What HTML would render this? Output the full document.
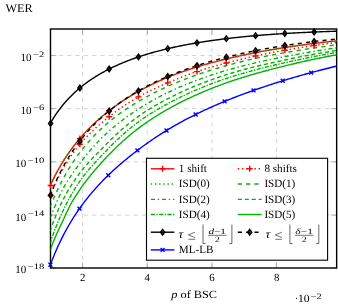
<!DOCTYPE html>
<html><head><meta charset="utf-8"><title>WER plot</title>
<style>html,body{margin:0;padding:0;background:#fff;}body{width:338px;height:305px;overflow:hidden;position:relative;font-family:"Liberation Serif",serif;}</style></head>
<body>
<svg width="338" height="305" viewBox="0 0 338 305" style="display:block;position:absolute;left:0;top:0;will-change:transform" text-rendering="geometricPrecision">
<rect x="0" y="0" width="338" height="305" fill="#ffffff"/>
<defs><clipPath id="ax"><rect x="50.5" y="29.0" width="286.15" height="239.0"/></clipPath></defs>
<path d="M82.60 268.0V29.0M147.25 268.0V29.0M211.90 268.0V29.0M276.55 268.0V29.0M50.5 55.55H336.65M50.5 108.65H336.65M50.5 161.80H336.65M50.5 215.10H336.65" stroke="#c4c4c4" stroke-width="0.75" stroke-dasharray="4.16 4.16" fill="none"/>
<path d="M82.60 268.0v-5.91M82.60 29.0v5.91M147.25 268.0v-5.91M147.25 29.0v5.91M211.90 268.0v-5.91M211.90 29.0v5.91M276.55 268.0v-5.91M276.55 29.0v5.91M50.5 55.55h5.91M336.65 55.55h-5.91M50.5 108.65h5.91M336.65 108.65h-5.91M50.5 161.80h5.91M336.65 161.80h-5.91M50.5 215.10h5.91M336.65 215.10h-5.91M50.5 268.00h5.91M336.65 268.00h-5.91" stroke="#808080" stroke-width="0.55" fill="none"/>
<rect x="50.5" y="29.0" width="286.15" height="239.0" fill="none" stroke="#000" stroke-width="1.4"/>
<g clip-path="url(#ax)" fill="none" stroke-linejoin="round">
<path d="M49.90 186.35L50.40 185.23L50.90 184.14L51.40 183.06L51.90 181.99L52.40 180.94L52.90 179.91L53.40 178.88L53.90 177.88L54.40 176.88L54.90 175.90L55.40 174.93L55.90 173.98L56.40 173.03L56.90 172.10L57.40 171.18L57.90 170.27L58.40 169.37L58.90 168.49L59.40 167.61L59.90 166.74L60.40 165.89L60.90 165.04L61.40 164.20L61.90 163.37L62.40 162.56L62.90 161.75L63.40 160.94L63.90 160.15L64.40 159.37L64.90 158.59L65.40 157.82L65.90 157.06L66.40 156.31L66.90 155.57L67.40 154.83L67.90 154.10L68.40 153.38L68.90 152.66L69.40 151.95L69.90 151.25L70.40 150.56L70.90 149.87L71.40 149.18L71.90 148.51L72.40 147.84L72.90 147.17L73.40 146.52L73.90 145.86L74.40 145.22L74.90 144.58L75.40 143.94L75.90 143.31L76.40 142.69L76.90 142.07L77.40 141.46L77.90 140.85L78.40 140.24L78.90 139.65L79.40 139.05L79.90 138.46L80.40 137.88L80.90 137.30L81.40 136.73L81.90 136.16L82.40 135.60L82.90 135.04L83.40 134.49L83.90 133.94L84.40 133.39L84.90 132.85L85.40 132.32L85.90 131.79L86.40 131.26L86.90 130.74L87.40 130.22L87.90 129.70L88.40 129.19L88.90 128.68L89.40 128.18L89.90 127.68L90.40 127.19L90.90 126.69L91.40 126.20L91.90 125.72L92.40 125.24L92.90 124.76L93.40 124.28L93.90 123.81L94.40 123.34L94.90 122.88L95.40 122.42L95.90 121.96L96.40 121.50L96.90 121.05L97.40 120.60L97.90 120.15L98.40 119.71L98.90 119.27L99.40 118.83L99.90 118.39L100.40 117.96L100.90 117.53L101.40 117.10L101.90 116.67L102.40 116.25L102.90 115.83L103.40 115.41L103.90 114.99L104.40 114.58L104.90 114.17L105.40 113.76L105.90 113.36L106.40 112.95L106.90 112.55L107.40 112.15L107.90 111.75L108.40 111.36L108.90 110.96L109.40 110.57L109.90 110.18L110.40 109.80L110.90 109.41L111.40 109.03L111.90 108.65L112.40 108.28L112.90 107.90L113.40 107.53L113.90 107.16L114.40 106.79L114.90 106.42L115.40 106.06L115.90 105.70L116.40 105.34L116.90 104.98L117.40 104.62L117.90 104.27L118.40 103.92L118.90 103.57L119.40 103.22L119.90 102.88L120.00 102.81L121.00 102.12L122.00 101.45L123.00 100.78L124.00 100.12L125.00 99.46L126.00 98.82L127.00 98.18L128.00 97.55L129.00 96.93L130.00 96.31L131.00 95.70L132.00 95.10L133.00 94.50L134.00 93.92L135.00 93.33L136.00 92.76L137.00 92.19L138.00 91.63L139.00 91.07L140.00 90.52L141.00 89.97L142.00 89.43L143.00 88.90L144.00 88.37L145.00 87.85L146.00 87.33L147.00 86.82L148.00 86.31L149.00 85.81L150.00 85.31L151.00 84.82L152.00 84.33L153.00 83.85L154.00 83.38L155.00 82.90L156.00 82.44L157.00 81.98L158.00 81.52L159.00 81.07L160.00 80.62L161.00 80.18L162.00 79.74L163.00 79.31L164.00 78.88L165.00 78.45L166.00 78.03L167.00 77.62L168.00 77.21L169.00 76.80L170.00 76.40L171.00 76.01L172.00 75.61L173.00 75.22L174.00 74.84L175.00 74.46L176.00 74.08L177.00 73.71L178.00 73.34L179.00 72.98L180.00 72.62L181.00 72.26L182.00 71.90L183.00 71.55L184.00 71.21L185.00 70.86L186.00 70.52L187.00 70.18L188.00 69.85L189.00 69.51L190.00 69.19L191.00 68.86L192.00 68.54L193.00 68.22L194.00 67.90L195.00 67.58L196.00 67.27L197.00 66.96L198.00 66.65L199.00 66.35L200.00 66.05L201.00 65.75L202.00 65.45L203.00 65.16L204.00 64.87L205.00 64.58L206.00 64.30L207.00 64.02L208.00 63.74L209.00 63.46L210.00 63.18L211.00 62.91L212.00 62.64L213.00 62.37L214.00 62.10L215.00 61.84L216.00 61.58L217.00 61.32L218.00 61.06L219.00 60.80L220.00 60.55L221.00 60.30L222.00 60.04L223.00 59.80L224.00 59.55L225.00 59.30L226.00 59.06L227.00 58.82L228.00 58.58L229.00 58.34L230.00 58.11L231.00 57.87L232.00 57.64L233.00 57.42L234.00 57.19L235.00 56.96L236.00 56.74L237.00 56.52L238.00 56.30L239.00 56.08L240.00 55.86L241.00 55.65L242.00 55.44L243.00 55.22L244.00 55.01L245.00 54.80L246.00 54.60L247.00 54.39L248.00 54.18L249.00 53.98L250.00 53.78L251.00 53.57L252.00 53.37L253.00 53.17L254.00 52.97L255.00 52.78L256.00 52.58L257.00 52.38L258.00 52.19L259.00 52.00L260.00 51.81L261.00 51.62L262.00 51.43L263.00 51.24L264.00 51.06L265.00 50.88L266.00 50.69L267.00 50.51L268.00 50.33L269.00 50.16L270.00 49.98L271.00 49.81L272.00 49.63L273.00 49.46L274.00 49.29L275.00 49.12L276.00 48.96L277.00 48.79L278.00 48.63L279.00 48.46L280.00 48.30L281.00 48.14L282.00 47.98L283.00 47.82L284.00 47.67L285.00 47.51L286.00 47.36L287.00 47.20L288.00 47.05L289.00 46.90L290.00 46.75L291.00 46.60L292.00 46.45L293.00 46.30L294.00 46.15L295.00 46.00L296.00 45.86L297.00 45.71L298.00 45.57L299.00 45.43L300.00 45.29L301.00 45.15L302.00 45.01L303.00 44.87L304.00 44.73L305.00 44.59L306.00 44.46L307.00 44.32L308.00 44.19L309.00 44.06L310.00 43.93L311.00 43.80L312.00 43.67L313.00 43.54L314.00 43.42L315.00 43.29L316.00 43.17L317.00 43.04L318.00 42.92L319.00 42.80L320.00 42.68L321.00 42.56L322.00 42.44L323.00 42.32L324.00 42.21L325.00 42.09L326.00 41.97L327.00 41.86L328.00 41.75L329.00 41.63L330.00 41.52L331.00 41.41L332.00 41.30L333.00 41.19L334.00 41.08L335.00 40.98L336.00 40.87L337.00 40.77L338.00 40.66" stroke="#ff0000" stroke-width="1.39"/>
<path d="M49.90 196.67L50.40 195.38L50.90 194.11L51.40 192.87L51.90 191.65L52.40 190.44L52.90 189.26L53.40 188.10L53.90 186.95L54.40 185.82L54.90 184.71L55.40 183.62L55.90 182.54L56.40 181.48L56.90 180.44L57.40 179.41L57.90 178.39L58.40 177.39L58.90 176.41L59.40 175.43L59.90 174.47L60.40 173.53L60.90 172.59L61.40 171.67L61.90 170.76L62.40 169.87L62.90 168.98L63.40 168.11L63.90 167.24L64.40 166.39L64.90 165.55L65.40 164.72L65.90 163.90L66.40 163.09L66.90 162.28L67.40 161.49L67.90 160.71L68.40 159.93L68.90 159.17L69.40 158.41L69.90 157.66L70.40 156.92L70.90 156.19L71.40 155.47L71.90 154.75L72.40 154.05L72.90 153.35L73.40 152.65L73.90 151.97L74.40 151.29L74.90 150.62L75.40 149.95L75.90 149.30L76.40 148.65L76.90 148.00L77.40 147.36L77.90 146.73L78.40 146.11L78.90 145.49L79.40 144.87L79.90 144.27L80.40 143.67L80.90 143.07L81.40 142.49L81.90 141.91L82.40 141.34L82.90 140.77L83.40 140.21L83.90 139.66L84.40 139.11L84.90 138.57L85.40 138.04L85.90 137.51L86.40 136.98L86.90 136.46L87.40 135.94L87.90 135.43L88.40 134.93L88.90 134.43L89.40 133.93L89.90 133.44L90.40 132.95L90.90 132.46L91.40 131.98L91.90 131.51L92.40 131.03L92.90 130.56L93.40 130.10L93.90 129.63L94.40 129.17L94.90 128.72L95.40 128.26L95.90 127.81L96.40 127.36L96.90 126.92L97.40 126.48L97.90 126.04L98.40 125.60L98.90 125.17L99.40 124.73L99.90 124.30L100.40 123.88L100.90 123.45L101.40 123.03L101.90 122.61L102.40 122.19L102.90 121.77L103.40 121.36L103.90 120.95L104.40 120.54L104.90 120.13L105.40 119.72L105.90 119.31L106.40 118.91L106.90 118.51L107.40 118.11L107.90 117.71L108.40 117.31L108.90 116.91L109.40 116.52L109.90 116.13L110.40 115.73L110.90 115.34L111.40 114.96L111.90 114.57L112.40 114.19L112.90 113.81L113.40 113.43L113.90 113.05L114.40 112.67L114.90 112.30L115.40 111.92L115.90 111.55L116.40 111.19L116.90 110.82L117.40 110.45L117.90 110.09L118.40 109.73L118.90 109.37L119.40 109.02L119.90 108.66L120.00 108.59L121.00 107.89L122.00 107.19L123.00 106.51L124.00 105.83L125.00 105.15L126.00 104.49L127.00 103.84L128.00 103.19L129.00 102.55L130.00 101.92L131.00 101.29L132.00 100.68L133.00 100.07L134.00 99.47L135.00 98.88L136.00 98.29L137.00 97.72L138.00 97.15L139.00 96.59L140.00 96.04L141.00 95.49L142.00 94.96L143.00 94.43L144.00 93.91L145.00 93.39L146.00 92.88L147.00 92.38L148.00 91.88L149.00 91.39L150.00 90.91L151.00 90.43L152.00 89.95L153.00 89.48L154.00 89.01L155.00 88.54L156.00 88.08L157.00 87.63L158.00 87.17L159.00 86.72L160.00 86.27L161.00 85.83L162.00 85.38L163.00 84.94L164.00 84.50L165.00 84.06L166.00 83.63L167.00 83.19L168.00 82.76L169.00 82.33L170.00 81.90L171.00 81.48L172.00 81.06L173.00 80.64L174.00 80.22L175.00 79.81L176.00 79.40L177.00 78.99L178.00 78.59L179.00 78.19L180.00 77.79L181.00 77.40L182.00 77.01L183.00 76.62L184.00 76.24L185.00 75.86L186.00 75.49L187.00 75.11L188.00 74.74L189.00 74.38L190.00 74.02L191.00 73.66L192.00 73.30L193.00 72.95L194.00 72.60L195.00 72.26L196.00 71.92L197.00 71.58L198.00 71.24L199.00 70.91L200.00 70.59L201.00 70.26L202.00 69.94L203.00 69.63L204.00 69.31L205.00 69.00L206.00 68.69L207.00 68.39L208.00 68.08L209.00 67.78L210.00 67.48L211.00 67.19L212.00 66.90L213.00 66.61L214.00 66.32L215.00 66.03L216.00 65.75L217.00 65.46L218.00 65.18L219.00 64.91L220.00 64.63L221.00 64.36L222.00 64.08L223.00 63.81L224.00 63.54L225.00 63.28L226.00 63.01L227.00 62.74L228.00 62.48L229.00 62.22L230.00 61.96L231.00 61.71L232.00 61.45L233.00 61.20L234.00 60.95L235.00 60.70L236.00 60.45L237.00 60.21L238.00 59.97L239.00 59.72L240.00 59.48L241.00 59.25L242.00 59.01L243.00 58.78L244.00 58.54L245.00 58.31L246.00 58.08L247.00 57.85L248.00 57.63L249.00 57.40L250.00 57.18L251.00 56.95L252.00 56.73L253.00 56.51L254.00 56.29L255.00 56.08L256.00 55.86L257.00 55.65L258.00 55.43L259.00 55.22L260.00 55.01L261.00 54.81L262.00 54.60L263.00 54.40L264.00 54.19L265.00 53.99L266.00 53.79L267.00 53.59L268.00 53.40L269.00 53.20L270.00 53.01L271.00 52.81L272.00 52.62L273.00 52.43L274.00 52.24L275.00 52.06L276.00 51.87L277.00 51.68L278.00 51.50L279.00 51.32L280.00 51.13L281.00 50.95L282.00 50.77L283.00 50.60L284.00 50.42L285.00 50.24L286.00 50.07L287.00 49.89L288.00 49.72L289.00 49.55L290.00 49.38L291.00 49.20L292.00 49.03L293.00 48.87L294.00 48.70L295.00 48.53L296.00 48.37L297.00 48.20L298.00 48.04L299.00 47.88L300.00 47.71L301.00 47.55L302.00 47.40L303.00 47.24L304.00 47.08L305.00 46.93L306.00 46.77L307.00 46.62L308.00 46.47L309.00 46.32L310.00 46.17L311.00 46.02L312.00 45.87L313.00 45.72L314.00 45.58L315.00 45.44L316.00 45.29L317.00 45.15L318.00 45.01L319.00 44.87L320.00 44.73L321.00 44.60L322.00 44.46L323.00 44.32L324.00 44.19L325.00 44.06L326.00 43.92L327.00 43.79L328.00 43.66L329.00 43.53L330.00 43.40L331.00 43.27L332.00 43.15L333.00 43.02L334.00 42.90L335.00 42.77L336.00 42.65L337.00 42.53L338.00 42.40" stroke="#ff0000" stroke-width="1.39" stroke-dasharray="1.39 2.77"/>
<path d="M49.90 186.35L50.40 185.23L50.90 184.14L51.40 183.06L51.90 181.99L52.40 180.94L52.90 179.91L53.40 178.88L53.90 177.88L54.40 176.88L54.90 175.90L55.40 174.93L55.90 173.98L56.40 173.03L56.90 172.10L57.40 171.18L57.90 170.27L58.40 169.37L58.90 168.49L59.40 167.61L59.90 166.74L60.40 165.89L60.90 165.04L61.40 164.20L61.90 163.37L62.40 162.56L62.90 161.75L63.40 160.94L63.90 160.15L64.40 159.37L64.90 158.59L65.40 157.82L65.90 157.06L66.40 156.31L66.90 155.57L67.40 154.83L67.90 154.10L68.40 153.38L68.90 152.66L69.40 151.95L69.90 151.25L70.40 150.56L70.90 149.87L71.40 149.18L71.90 148.51L72.40 147.84L72.90 147.17L73.40 146.52L73.90 145.86L74.40 145.22L74.90 144.58L75.40 143.94L75.90 143.31L76.40 142.69L76.90 142.07L77.40 141.46L77.90 140.85L78.40 140.24L78.90 139.65L79.40 139.05L79.90 138.46L80.40 137.88L80.90 137.30L81.40 136.73L81.90 136.16L82.40 135.60L82.90 135.04L83.40 134.49L83.90 133.94L84.40 133.39L84.90 132.85L85.40 132.32L85.90 131.79L86.40 131.26L86.90 130.74L87.40 130.22L87.90 129.70L88.40 129.19L88.90 128.68L89.40 128.18L89.90 127.68L90.40 127.19L90.90 126.69L91.40 126.20L91.90 125.72L92.40 125.24L92.90 124.76L93.40 124.28L93.90 123.81L94.40 123.34L94.90 122.88L95.40 122.42L95.90 121.96L96.40 121.50L96.90 121.05L97.40 120.60L97.90 120.15L98.40 119.71L98.90 119.27L99.40 118.83L99.90 118.39L100.40 117.96L100.90 117.53L101.40 117.10L101.90 116.67L102.40 116.25L102.90 115.83L103.40 115.41L103.90 114.99L104.40 114.58L104.90 114.17L105.40 113.76L105.90 113.36L106.40 112.95L106.90 112.55L107.40 112.15L107.90 111.75L108.40 111.36L108.90 110.96L109.40 110.57L109.90 110.18L110.40 109.80L110.90 109.41L111.40 109.03L111.90 108.65L112.40 108.28L112.90 107.90L113.40 107.53L113.90 107.16L114.40 106.79L114.90 106.42L115.40 106.06L115.90 105.70L116.40 105.34L116.90 104.98L117.40 104.62L117.90 104.27L118.40 103.92L118.90 103.57L119.40 103.22L119.90 102.88L120.00 102.81L121.00 102.12L122.00 101.45L123.00 100.78L124.00 100.12L125.00 99.46L126.00 98.82L127.00 98.18L128.00 97.55L129.00 96.93L130.00 96.31L131.00 95.70L132.00 95.10L133.00 94.50L134.00 93.92L135.00 93.33L136.00 92.76L137.00 92.19L138.00 91.63L139.00 91.07L140.00 90.52L141.00 89.97L142.00 89.43L143.00 88.90L144.00 88.37L145.00 87.85L146.00 87.33L147.00 86.82L148.00 86.31L149.00 85.81L150.00 85.31L151.00 84.82L152.00 84.33L153.00 83.85L154.00 83.38L155.00 82.90L156.00 82.44L157.00 81.98L158.00 81.52L159.00 81.07L160.00 80.62L161.00 80.18L162.00 79.74L163.00 79.31L164.00 78.88L165.00 78.45L166.00 78.03L167.00 77.62L168.00 77.21L169.00 76.80L170.00 76.40L171.00 76.01L172.00 75.61L173.00 75.22L174.00 74.84L175.00 74.46L176.00 74.08L177.00 73.71L178.00 73.34L179.00 72.98L180.00 72.62L181.00 72.26L182.00 71.90L183.00 71.55L184.00 71.21L185.00 70.86L186.00 70.52L187.00 70.18L188.00 69.85L189.00 69.51L190.00 69.19L191.00 68.86L192.00 68.54L193.00 68.22L194.00 67.90L195.00 67.58L196.00 67.27L197.00 66.96L198.00 66.65L199.00 66.35L200.00 66.05L201.00 65.75L202.00 65.45L203.00 65.16L204.00 64.87L205.00 64.58L206.00 64.30L207.00 64.02L208.00 63.74L209.00 63.46L210.00 63.18L211.00 62.91L212.00 62.64L213.00 62.37L214.00 62.10L215.00 61.84L216.00 61.58L217.00 61.32L218.00 61.06L219.00 60.80L220.00 60.55L221.00 60.30L222.00 60.04L223.00 59.80L224.00 59.55L225.00 59.30L226.00 59.06L227.00 58.82L228.00 58.58L229.00 58.34L230.00 58.11L231.00 57.87L232.00 57.64L233.00 57.42L234.00 57.19L235.00 56.96L236.00 56.74L237.00 56.52L238.00 56.30L239.00 56.08L240.00 55.86L241.00 55.65L242.00 55.44L243.00 55.22L244.00 55.01L245.00 54.80L246.00 54.60L247.00 54.39L248.00 54.18L249.00 53.98L250.00 53.78L251.00 53.57L252.00 53.37L253.00 53.17L254.00 52.97L255.00 52.78L256.00 52.58L257.00 52.38L258.00 52.19L259.00 52.00L260.00 51.81L261.00 51.62L262.00 51.43L263.00 51.24L264.00 51.06L265.00 50.88L266.00 50.69L267.00 50.51L268.00 50.33L269.00 50.16L270.00 49.98L271.00 49.81L272.00 49.63L273.00 49.46L274.00 49.29L275.00 49.12L276.00 48.96L277.00 48.79L278.00 48.63L279.00 48.46L280.00 48.30L281.00 48.14L282.00 47.98L283.00 47.82L284.00 47.67L285.00 47.51L286.00 47.36L287.00 47.20L288.00 47.05L289.00 46.90L290.00 46.75L291.00 46.60L292.00 46.45L293.00 46.30L294.00 46.15L295.00 46.00L296.00 45.86L297.00 45.71L298.00 45.57L299.00 45.43L300.00 45.29L301.00 45.15L302.00 45.01L303.00 44.87L304.00 44.73L305.00 44.59L306.00 44.46L307.00 44.32L308.00 44.19L309.00 44.06L310.00 43.93L311.00 43.80L312.00 43.67L313.00 43.54L314.00 43.42L315.00 43.29L316.00 43.17L317.00 43.04L318.00 42.92L319.00 42.80L320.00 42.68L321.00 42.56L322.00 42.44L323.00 42.32L324.00 42.21L325.00 42.09L326.00 41.97L327.00 41.86L328.00 41.75L329.00 41.63L330.00 41.52L331.00 41.41L332.00 41.30L333.00 41.19L334.00 41.08L335.00 40.98L336.00 40.87L337.00 40.77L338.00 40.66" stroke="#00b400" stroke-width="1.39" stroke-dasharray="1.39 2.77"/>
<path d="M49.90 207.21L50.40 205.97L50.90 204.75L51.40 203.55L51.90 202.37L52.40 201.20L52.90 200.05L53.40 198.92L53.90 197.79L54.40 196.68L54.90 195.58L55.40 194.49L55.90 193.40L56.40 192.33L56.90 191.26L57.40 190.20L57.90 189.15L58.40 188.11L58.90 187.08L59.40 186.06L59.90 185.05L60.40 184.05L60.90 183.07L61.40 182.09L61.90 181.13L62.40 180.17L62.90 179.23L63.40 178.30L63.90 177.37L64.40 176.46L64.90 175.56L65.40 174.66L65.90 173.78L66.40 172.91L66.90 172.04L67.40 171.18L67.90 170.34L68.40 169.50L68.90 168.67L69.40 167.85L69.90 167.03L70.40 166.23L70.90 165.44L71.40 164.65L71.90 163.87L72.40 163.10L72.90 162.34L73.40 161.58L73.90 160.83L74.40 160.09L74.90 159.36L75.40 158.64L75.90 157.92L76.40 157.21L76.90 156.51L77.40 155.81L77.90 155.12L78.40 154.44L78.90 153.76L79.40 153.10L79.90 152.43L80.40 151.78L80.90 151.13L81.40 150.48L81.90 149.84L82.40 149.21L82.90 148.58L83.40 147.96L83.90 147.35L84.40 146.73L84.90 146.13L85.40 145.53L85.90 144.93L86.40 144.34L86.90 143.75L87.40 143.17L87.90 142.60L88.40 142.02L88.90 141.46L89.40 140.90L89.90 140.34L90.40 139.78L90.90 139.23L91.40 138.69L91.90 138.15L92.40 137.61L92.90 137.08L93.40 136.55L93.90 136.03L94.40 135.51L94.90 135.00L95.40 134.48L95.90 133.98L96.40 133.47L96.90 132.97L97.40 132.48L97.90 131.99L98.40 131.50L98.90 131.01L99.40 130.53L99.90 130.05L100.40 129.58L100.90 129.11L101.40 128.64L101.90 128.18L102.40 127.72L102.90 127.26L103.40 126.80L103.90 126.35L104.40 125.91L104.90 125.46L105.40 125.02L105.90 124.58L106.40 124.15L106.90 123.72L107.40 123.29L107.90 122.86L108.40 122.44L108.90 122.02L109.40 121.60L109.90 121.19L110.40 120.78L110.90 120.37L111.40 119.96L111.90 119.56L112.40 119.16L112.90 118.76L113.40 118.37L113.90 117.98L114.40 117.59L114.90 117.20L115.40 116.82L115.90 116.44L116.40 116.06L116.90 115.68L117.40 115.31L117.90 114.94L118.40 114.57L118.90 114.20L119.40 113.84L119.90 113.48L120.00 113.40L121.00 112.69L122.00 111.98L123.00 111.28L124.00 110.59L125.00 109.91L126.00 109.23L127.00 108.56L128.00 107.90L129.00 107.25L130.00 106.60L131.00 105.96L132.00 105.33L133.00 104.70L134.00 104.08L135.00 103.47L136.00 102.86L137.00 102.26L138.00 101.66L139.00 101.07L140.00 100.49L141.00 99.91L142.00 99.34L143.00 98.77L144.00 98.21L145.00 97.66L146.00 97.11L147.00 96.56L148.00 96.03L149.00 95.49L150.00 94.97L151.00 94.44L152.00 93.93L153.00 93.41L154.00 92.91L155.00 92.40L156.00 91.90L157.00 91.41L158.00 90.92L159.00 90.44L160.00 89.95L161.00 89.48L162.00 89.01L163.00 88.54L164.00 88.07L165.00 87.61L166.00 87.15L167.00 86.70L168.00 86.25L169.00 85.81L170.00 85.36L171.00 84.93L172.00 84.49L173.00 84.06L174.00 83.64L175.00 83.22L176.00 82.80L177.00 82.38L178.00 81.97L179.00 81.56L180.00 81.16L181.00 80.76L182.00 80.36L183.00 79.97L184.00 79.58L185.00 79.19L186.00 78.81L187.00 78.42L188.00 78.05L189.00 77.67L190.00 77.30L191.00 76.93L192.00 76.56L193.00 76.20L194.00 75.84L195.00 75.48L196.00 75.13L197.00 74.78L198.00 74.43L199.00 74.08L200.00 73.74L201.00 73.40L202.00 73.06L203.00 72.72L204.00 72.39L205.00 72.06L206.00 71.74L207.00 71.41L208.00 71.09L209.00 70.77L210.00 70.46L211.00 70.14L212.00 69.83L213.00 69.52L214.00 69.22L215.00 68.91L216.00 68.61L217.00 68.31L218.00 68.02L219.00 67.72L220.00 67.43L221.00 67.14L222.00 66.85L223.00 66.56L224.00 66.28L225.00 65.99L226.00 65.71L227.00 65.44L228.00 65.16L229.00 64.89L230.00 64.61L231.00 64.34L232.00 64.08L233.00 63.81L234.00 63.55L235.00 63.29L236.00 63.03L237.00 62.77L238.00 62.52L239.00 62.26L240.00 62.01L241.00 61.76L242.00 61.52L243.00 61.27L244.00 61.03L245.00 60.79L246.00 60.55L247.00 60.31L248.00 60.08L249.00 59.84L250.00 59.61L251.00 59.38L252.00 59.15L253.00 58.93L254.00 58.70L255.00 58.48L256.00 58.26L257.00 58.04L258.00 57.82L259.00 57.61L260.00 57.40L261.00 57.19L262.00 56.98L263.00 56.78L264.00 56.57L265.00 56.37L266.00 56.17L267.00 55.97L268.00 55.78L269.00 55.58L270.00 55.39L271.00 55.20L272.00 55.01L273.00 54.82L274.00 54.63L275.00 54.45L276.00 54.26L277.00 54.08L278.00 53.89L279.00 53.71L280.00 53.53L281.00 53.35L282.00 53.17L283.00 53.00L284.00 52.82L285.00 52.64L286.00 52.47L287.00 52.29L288.00 52.12L289.00 51.95L290.00 51.78L291.00 51.61L292.00 51.44L293.00 51.27L294.00 51.10L295.00 50.94L296.00 50.77L297.00 50.61L298.00 50.44L299.00 50.28L300.00 50.12L301.00 49.96L302.00 49.80L303.00 49.65L304.00 49.49L305.00 49.33L306.00 49.18L307.00 49.02L308.00 48.87L309.00 48.72L310.00 48.57L311.00 48.42L312.00 48.27L313.00 48.13L314.00 47.98L315.00 47.83L316.00 47.69L317.00 47.54L318.00 47.40L319.00 47.25L320.00 47.11L321.00 46.96L322.00 46.82L323.00 46.67L324.00 46.53L325.00 46.39L326.00 46.24L327.00 46.10L328.00 45.96L329.00 45.82L330.00 45.68L331.00 45.54L332.00 45.40L333.00 45.26L334.00 45.13L335.00 44.99L336.00 44.86L337.00 44.72L338.00 44.59" stroke="#00b400" stroke-width="1.39" stroke-dasharray="4.16 4.16"/>
<path d="M49.90 218.19L50.40 216.96L50.90 215.74L51.40 214.54L51.90 213.35L52.40 212.17L52.90 210.99L53.40 209.82L53.90 208.66L54.40 207.50L54.90 206.34L55.40 205.18L55.90 204.03L56.40 202.87L56.90 201.73L57.40 200.59L57.90 199.46L58.40 198.34L58.90 197.24L59.40 196.15L59.90 195.07L60.40 194.02L60.90 192.98L61.40 191.95L61.90 190.95L62.40 189.97L62.90 189.01L63.40 188.08L63.90 187.16L64.40 186.26L64.90 185.38L65.40 184.52L65.90 183.67L66.40 182.84L66.90 182.02L67.40 181.21L67.90 180.41L68.40 179.63L68.90 178.86L69.40 178.09L69.90 177.34L70.40 176.59L70.90 175.85L71.40 175.12L71.90 174.40L72.40 173.68L72.90 172.96L73.40 172.25L73.90 171.55L74.40 170.85L74.90 170.15L75.40 169.46L75.90 168.77L76.40 168.08L76.90 167.40L77.40 166.71L77.90 166.03L78.40 165.35L78.90 164.67L79.40 163.99L79.90 163.31L80.40 162.64L80.90 161.97L81.40 161.31L81.90 160.65L82.40 159.99L82.90 159.34L83.40 158.70L83.90 158.06L84.40 157.42L84.90 156.79L85.40 156.16L85.90 155.54L86.40 154.92L86.90 154.31L87.40 153.70L87.90 153.10L88.40 152.50L88.90 151.90L89.40 151.31L89.90 150.72L90.40 150.14L90.90 149.56L91.40 148.99L91.90 148.42L92.40 147.85L92.90 147.29L93.40 146.73L93.90 146.17L94.40 145.62L94.90 145.08L95.40 144.53L95.90 144.00L96.40 143.46L96.90 142.93L97.40 142.40L97.90 141.88L98.40 141.36L98.90 140.84L99.40 140.33L99.90 139.82L100.40 139.31L100.90 138.81L101.40 138.31L101.90 137.82L102.40 137.33L102.90 136.84L103.40 136.35L103.90 135.87L104.40 135.40L104.90 134.92L105.40 134.45L105.90 133.98L106.40 133.52L106.90 133.06L107.40 132.60L107.90 132.14L108.40 131.69L108.90 131.24L109.40 130.80L109.90 130.36L110.40 129.92L110.90 129.48L111.40 129.05L111.90 128.62L112.40 128.19L112.90 127.76L113.40 127.34L113.90 126.92L114.40 126.50L114.90 126.09L115.40 125.67L115.90 125.26L116.40 124.86L116.90 124.45L117.40 124.05L117.90 123.65L118.40 123.25L118.90 122.86L119.40 122.46L119.90 122.07L120.00 122.00L121.00 121.22L122.00 120.46L123.00 119.70L124.00 118.95L125.00 118.21L126.00 117.48L127.00 116.76L128.00 116.04L129.00 115.34L130.00 114.63L131.00 113.94L132.00 113.25L133.00 112.57L134.00 111.90L135.00 111.23L136.00 110.57L137.00 109.92L138.00 109.27L139.00 108.63L140.00 107.99L141.00 107.36L142.00 106.74L143.00 106.12L144.00 105.51L145.00 104.90L146.00 104.30L147.00 103.70L148.00 103.12L149.00 102.53L150.00 101.95L151.00 101.38L152.00 100.81L153.00 100.25L154.00 99.70L155.00 99.15L156.00 98.60L157.00 98.06L158.00 97.53L159.00 97.00L160.00 96.47L161.00 95.95L162.00 95.44L163.00 94.93L164.00 94.43L165.00 93.93L166.00 93.43L167.00 92.94L168.00 92.46L169.00 91.98L170.00 91.50L171.00 91.03L172.00 90.56L173.00 90.10L174.00 89.64L175.00 89.19L176.00 88.74L177.00 88.29L178.00 87.85L179.00 87.41L180.00 86.98L181.00 86.55L182.00 86.12L183.00 85.70L184.00 85.28L185.00 84.87L186.00 84.45L187.00 84.05L188.00 83.64L189.00 83.24L190.00 82.84L191.00 82.45L192.00 82.06L193.00 81.67L194.00 81.28L195.00 80.90L196.00 80.53L197.00 80.15L198.00 79.78L199.00 79.41L200.00 79.04L201.00 78.68L202.00 78.32L203.00 77.96L204.00 77.61L205.00 77.26L206.00 76.91L207.00 76.56L208.00 76.22L209.00 75.88L210.00 75.54L211.00 75.21L212.00 74.88L213.00 74.55L214.00 74.22L215.00 73.90L216.00 73.58L217.00 73.26L218.00 72.94L219.00 72.63L220.00 72.32L221.00 72.01L222.00 71.70L223.00 71.40L224.00 71.10L225.00 70.80L226.00 70.51L227.00 70.22L228.00 69.93L229.00 69.64L230.00 69.35L231.00 69.07L232.00 68.79L233.00 68.51L234.00 68.24L235.00 67.96L236.00 67.69L237.00 67.42L238.00 67.16L239.00 66.89L240.00 66.63L241.00 66.37L242.00 66.11L243.00 65.85L244.00 65.60L245.00 65.35L246.00 65.09L247.00 64.85L248.00 64.60L249.00 64.35L250.00 64.11L251.00 63.87L252.00 63.63L253.00 63.39L254.00 63.15L255.00 62.92L256.00 62.68L257.00 62.45L258.00 62.22L259.00 62.00L260.00 61.77L261.00 61.55L262.00 61.33L263.00 61.11L264.00 60.89L265.00 60.68L266.00 60.46L267.00 60.25L268.00 60.04L269.00 59.83L270.00 59.62L271.00 59.42L272.00 59.21L273.00 59.01L274.00 58.80L275.00 58.60L276.00 58.40L277.00 58.20L278.00 57.99L279.00 57.79L280.00 57.59L281.00 57.40L282.00 57.20L283.00 57.00L284.00 56.80L285.00 56.60L286.00 56.41L287.00 56.21L288.00 56.02L289.00 55.82L290.00 55.63L291.00 55.44L292.00 55.25L293.00 55.06L294.00 54.88L295.00 54.69L296.00 54.50L297.00 54.32L298.00 54.14L299.00 53.95L300.00 53.77L301.00 53.59L302.00 53.42L303.00 53.24L304.00 53.06L305.00 52.89L306.00 52.71L307.00 52.54L308.00 52.37L309.00 52.20L310.00 52.03L311.00 51.86L312.00 51.69L313.00 51.53L314.00 51.36L315.00 51.20L316.00 51.03L317.00 50.87L318.00 50.70L319.00 50.54L320.00 50.38L321.00 50.21L322.00 50.05L323.00 49.89L324.00 49.73L325.00 49.56L326.00 49.40L327.00 49.24L328.00 49.08L329.00 48.93L330.00 48.77L331.00 48.61L332.00 48.46L333.00 48.30L334.00 48.15L335.00 47.99L336.00 47.84L337.00 47.69L338.00 47.54" stroke="#00b400" stroke-width="1.39" stroke-dasharray="4.16 2.77 1.39 2.77"/>
<path d="M49.90 231.38L50.40 229.95L50.90 228.53L51.40 227.14L51.90 225.77L52.40 224.42L52.90 223.09L53.40 221.78L53.90 220.49L54.40 219.22L54.90 217.97L55.40 216.73L55.90 215.51L56.40 214.30L56.90 213.12L57.40 211.94L57.90 210.78L58.40 209.63L58.90 208.51L59.40 207.40L59.90 206.30L60.40 205.23L60.90 204.17L61.40 203.13L61.90 202.10L62.40 201.08L62.90 200.08L63.40 199.10L63.90 198.13L64.40 197.17L64.90 196.22L65.40 195.29L65.90 194.37L66.40 193.46L66.90 192.56L67.40 191.68L67.90 190.81L68.40 189.95L68.90 189.10L69.40 188.27L69.90 187.45L70.40 186.64L70.90 185.85L71.40 185.06L71.90 184.29L72.40 183.52L72.90 182.77L73.40 182.02L73.90 181.28L74.40 180.55L74.90 179.83L75.40 179.11L75.90 178.40L76.40 177.69L76.90 177.00L77.40 176.30L77.90 175.61L78.40 174.93L78.90 174.25L79.40 173.57L79.90 172.90L80.40 172.24L80.90 171.58L81.40 170.94L81.90 170.30L82.40 169.67L82.90 169.05L83.40 168.44L83.90 167.84L84.40 167.24L84.90 166.65L85.40 166.06L85.90 165.48L86.40 164.91L86.90 164.34L87.40 163.77L87.90 163.21L88.40 162.66L88.90 162.10L89.40 161.56L89.90 161.01L90.40 160.47L90.90 159.94L91.40 159.40L91.90 158.87L92.40 158.35L92.90 157.82L93.40 157.30L93.90 156.78L94.40 156.26L94.90 155.74L95.40 155.23L95.90 154.72L96.40 154.21L96.90 153.70L97.40 153.19L97.90 152.68L98.40 152.17L98.90 151.67L99.40 151.16L99.90 150.66L100.40 150.16L100.90 149.65L101.40 149.15L101.90 148.65L102.40 148.15L102.90 147.64L103.40 147.14L103.90 146.64L104.40 146.14L104.90 145.64L105.40 145.13L105.90 144.63L106.40 144.13L106.90 143.62L107.40 143.12L107.90 142.61L108.40 142.11L108.90 141.60L109.40 141.10L109.90 140.59L110.40 140.09L110.90 139.60L111.40 139.10L111.90 138.61L112.40 138.13L112.90 137.64L113.40 137.16L113.90 136.68L114.40 136.20L114.90 135.73L115.40 135.26L115.90 134.79L116.40 134.33L116.90 133.87L117.40 133.41L117.90 132.95L118.40 132.50L118.90 132.05L119.40 131.60L119.90 131.15L120.00 131.07L121.00 130.18L122.00 129.31L123.00 128.45L124.00 127.60L125.00 126.76L126.00 125.92L127.00 125.10L128.00 124.29L129.00 123.48L130.00 122.69L131.00 121.90L132.00 121.13L133.00 120.36L134.00 119.60L135.00 118.85L136.00 118.10L137.00 117.37L138.00 116.64L139.00 115.92L140.00 115.21L141.00 114.52L142.00 113.83L143.00 113.16L144.00 112.49L145.00 111.84L146.00 111.19L147.00 110.55L148.00 109.92L149.00 109.30L150.00 108.68L151.00 108.08L152.00 107.48L153.00 106.88L154.00 106.30L155.00 105.72L156.00 105.14L157.00 104.57L158.00 104.01L159.00 103.45L160.00 102.89L161.00 102.34L162.00 101.80L163.00 101.26L164.00 100.72L165.00 100.19L166.00 99.66L167.00 99.13L168.00 98.61L169.00 98.09L170.00 97.58L171.00 97.07L172.00 96.57L173.00 96.06L174.00 95.57L175.00 95.08L176.00 94.59L177.00 94.11L178.00 93.63L179.00 93.15L180.00 92.68L181.00 92.21L182.00 91.75L183.00 91.29L184.00 90.83L185.00 90.38L186.00 89.94L187.00 89.49L188.00 89.05L189.00 88.62L190.00 88.19L191.00 87.76L192.00 87.33L193.00 86.91L194.00 86.50L195.00 86.08L196.00 85.67L197.00 85.27L198.00 84.86L199.00 84.46L200.00 84.07L201.00 83.67L202.00 83.28L203.00 82.90L204.00 82.51L205.00 82.13L206.00 81.76L207.00 81.38L208.00 81.01L209.00 80.64L210.00 80.28L211.00 79.92L212.00 79.56L213.00 79.20L214.00 78.85L215.00 78.50L216.00 78.15L217.00 77.81L218.00 77.47L219.00 77.13L220.00 76.80L221.00 76.46L222.00 76.13L223.00 75.81L224.00 75.48L225.00 75.16L226.00 74.84L227.00 74.53L228.00 74.21L229.00 73.90L230.00 73.60L231.00 73.29L232.00 72.99L233.00 72.69L234.00 72.39L235.00 72.10L236.00 71.81L237.00 71.52L238.00 71.23L239.00 70.95L240.00 70.66L241.00 70.38L242.00 70.11L243.00 69.83L244.00 69.56L245.00 69.29L246.00 69.02L247.00 68.75L248.00 68.49L249.00 68.22L250.00 67.96L251.00 67.70L252.00 67.45L253.00 67.19L254.00 66.94L255.00 66.69L256.00 66.44L257.00 66.19L258.00 65.95L259.00 65.71L260.00 65.47L261.00 65.24L262.00 65.01L263.00 64.78L264.00 64.55L265.00 64.33L266.00 64.10L267.00 63.88L268.00 63.66L269.00 63.44L270.00 63.23L271.00 63.01L272.00 62.79L273.00 62.58L274.00 62.36L275.00 62.15L276.00 61.93L277.00 61.72L278.00 61.50L279.00 61.29L280.00 61.07L281.00 60.86L282.00 60.64L283.00 60.42L284.00 60.21L285.00 59.99L286.00 59.77L287.00 59.55L288.00 59.34L289.00 59.13L290.00 58.91L291.00 58.70L292.00 58.49L293.00 58.29L294.00 58.08L295.00 57.88L296.00 57.67L297.00 57.47L298.00 57.27L299.00 57.07L300.00 56.88L301.00 56.68L302.00 56.48L303.00 56.29L304.00 56.10L305.00 55.91L306.00 55.72L307.00 55.53L308.00 55.34L309.00 55.16L310.00 54.98L311.00 54.79L312.00 54.61L313.00 54.43L314.00 54.25L315.00 54.07L316.00 53.90L317.00 53.72L318.00 53.54L319.00 53.37L320.00 53.19L321.00 53.02L322.00 52.85L323.00 52.67L324.00 52.50L325.00 52.33L326.00 52.16L327.00 51.99L328.00 51.83L329.00 51.66L330.00 51.49L331.00 51.33L332.00 51.16L333.00 51.00L334.00 50.84L335.00 50.68L336.00 50.52L337.00 50.36L338.00 50.20" stroke="#00b400" stroke-width="1.39" stroke-dasharray="4.16 2.77"/>
<path d="M49.90 243.65L50.40 242.16L50.90 240.68L51.40 239.24L51.90 237.81L52.40 236.41L52.90 235.02L53.40 233.66L53.90 232.32L54.40 230.99L54.90 229.69L55.40 228.40L55.90 227.13L56.40 225.88L56.90 224.64L57.40 223.42L57.90 222.22L58.40 221.03L58.90 219.86L59.40 218.71L59.90 217.56L60.40 216.44L60.90 215.32L61.40 214.22L61.90 213.14L62.40 212.06L62.90 211.00L63.40 209.95L63.90 208.92L64.40 207.89L64.90 206.87L65.40 205.87L65.90 204.88L66.40 203.89L66.90 202.92L67.40 201.95L67.90 201.00L68.40 200.05L68.90 199.12L69.40 198.19L69.90 197.28L70.40 196.38L70.90 195.48L71.40 194.60L71.90 193.73L72.40 192.87L72.90 192.01L73.40 191.17L73.90 190.34L74.40 189.52L74.90 188.71L75.40 187.90L75.90 187.11L76.40 186.32L76.90 185.55L77.40 184.78L77.90 184.02L78.40 183.27L78.90 182.53L79.40 181.79L79.90 181.07L80.40 180.35L80.90 179.64L81.40 178.95L81.90 178.26L82.40 177.59L82.90 176.92L83.40 176.26L83.90 175.61L84.40 174.97L84.90 174.33L85.40 173.70L85.90 173.08L86.40 172.47L86.90 171.86L87.40 171.25L87.90 170.66L88.40 170.06L88.90 169.48L89.40 168.89L89.90 168.32L90.40 167.74L90.90 167.18L91.40 166.61L91.90 166.05L92.40 165.49L92.90 164.94L93.40 164.39L93.90 163.84L94.40 163.29L94.90 162.75L95.40 162.21L95.90 161.67L96.40 161.14L96.90 160.60L97.40 160.07L97.90 159.54L98.40 159.01L98.90 158.49L99.40 157.96L99.90 157.44L100.40 156.91L100.90 156.39L101.40 155.87L101.90 155.35L102.40 154.83L102.90 154.31L103.40 153.79L103.90 153.27L104.40 152.76L104.90 152.24L105.40 151.72L105.90 151.21L106.40 150.69L106.90 150.17L107.40 149.66L107.90 149.14L108.40 148.62L108.90 148.10L109.40 147.59L109.90 147.07L110.40 146.56L110.90 146.05L111.40 145.54L111.90 145.04L112.40 144.54L112.90 144.04L113.40 143.54L113.90 143.05L114.40 142.55L114.90 142.06L115.40 141.58L115.90 141.09L116.40 140.61L116.90 140.13L117.40 139.66L117.90 139.18L118.40 138.71L118.90 138.24L119.40 137.78L119.90 137.31L120.00 137.22L121.00 136.30L122.00 135.39L123.00 134.49L124.00 133.61L125.00 132.73L126.00 131.86L127.00 131.00L128.00 130.15L129.00 129.32L130.00 128.49L131.00 127.67L132.00 126.86L133.00 126.07L134.00 125.28L135.00 124.50L136.00 123.73L137.00 122.97L138.00 122.23L139.00 121.49L140.00 120.76L141.00 120.04L142.00 119.33L143.00 118.64L144.00 117.95L145.00 117.27L146.00 116.60L147.00 115.94L148.00 115.28L149.00 114.64L150.00 114.00L151.00 113.36L152.00 112.74L153.00 112.12L154.00 111.51L155.00 110.91L156.00 110.31L157.00 109.71L158.00 109.13L159.00 108.54L160.00 107.96L161.00 107.39L162.00 106.82L163.00 106.26L164.00 105.70L165.00 105.15L166.00 104.60L167.00 104.05L168.00 103.51L169.00 102.97L170.00 102.43L171.00 101.91L172.00 101.38L173.00 100.86L174.00 100.35L175.00 99.84L176.00 99.33L177.00 98.83L178.00 98.33L179.00 97.84L180.00 97.35L181.00 96.86L182.00 96.38L183.00 95.90L184.00 95.43L185.00 94.96L186.00 94.49L187.00 94.03L188.00 93.57L189.00 93.12L190.00 92.67L191.00 92.22L192.00 91.78L193.00 91.34L194.00 90.90L195.00 90.47L196.00 90.04L197.00 89.62L198.00 89.19L199.00 88.77L200.00 88.36L201.00 87.94L202.00 87.53L203.00 87.12L204.00 86.72L205.00 86.32L206.00 85.92L207.00 85.53L208.00 85.13L209.00 84.74L210.00 84.36L211.00 83.98L212.00 83.60L213.00 83.22L214.00 82.85L215.00 82.47L216.00 82.11L217.00 81.74L218.00 81.38L219.00 81.02L220.00 80.67L221.00 80.32L222.00 79.97L223.00 79.62L224.00 79.28L225.00 78.94L226.00 78.60L227.00 78.27L228.00 77.94L229.00 77.61L230.00 77.28L231.00 76.96L232.00 76.64L233.00 76.33L234.00 76.02L235.00 75.71L236.00 75.40L237.00 75.10L238.00 74.79L239.00 74.49L240.00 74.20L241.00 73.90L242.00 73.61L243.00 73.32L244.00 73.03L245.00 72.74L246.00 72.46L247.00 72.18L248.00 71.90L249.00 71.62L250.00 71.34L251.00 71.06L252.00 70.79L253.00 70.52L254.00 70.25L255.00 69.98L256.00 69.71L257.00 69.45L258.00 69.18L259.00 68.92L260.00 68.67L261.00 68.41L262.00 68.16L263.00 67.91L264.00 67.66L265.00 67.41L266.00 67.16L267.00 66.92L268.00 66.67L269.00 66.43L270.00 66.19L271.00 65.95L272.00 65.71L273.00 65.48L274.00 65.24L275.00 65.00L276.00 64.77L277.00 64.54L278.00 64.30L279.00 64.07L280.00 63.84L281.00 63.61L282.00 63.38L283.00 63.15L284.00 62.92L285.00 62.69L286.00 62.46L287.00 62.23L288.00 62.00L289.00 61.78L290.00 61.56L291.00 61.34L292.00 61.12L293.00 60.90L294.00 60.68L295.00 60.46L296.00 60.25L297.00 60.03L298.00 59.82L299.00 59.61L300.00 59.40L301.00 59.19L302.00 58.98L303.00 58.77L304.00 58.57L305.00 58.36L306.00 58.16L307.00 57.95L308.00 57.75L309.00 57.55L310.00 57.35L311.00 57.15L312.00 56.95L313.00 56.75L314.00 56.55L315.00 56.35L316.00 56.16L317.00 55.96L318.00 55.77L319.00 55.58L320.00 55.39L321.00 55.20L322.00 55.01L323.00 54.82L324.00 54.64L325.00 54.45L326.00 54.27L327.00 54.09L328.00 53.90L329.00 53.73L330.00 53.55L331.00 53.37L332.00 53.19L333.00 53.02L334.00 52.85L335.00 52.67L336.00 52.50L337.00 52.33L338.00 52.16" stroke="#00b400" stroke-width="1.39" stroke-dasharray="4.16 1.39 1.39 1.39"/>
<path d="M49.90 251.16L50.40 249.76L50.90 248.39L51.40 247.04L51.90 245.70L52.40 244.39L52.90 243.09L53.40 241.81L53.90 240.54L54.40 239.31L54.90 238.10L55.40 236.92L55.90 235.76L56.40 234.62L56.90 233.50L57.40 232.39L57.90 231.30L58.40 230.22L58.90 229.14L59.40 228.07L59.90 227.01L60.40 225.95L60.90 224.89L61.40 223.84L61.90 222.78L62.40 221.72L62.90 220.65L63.40 219.58L63.90 218.51L64.40 217.43L64.90 216.35L65.40 215.26L65.90 214.16L66.40 213.08L66.90 212.00L67.40 210.92L67.90 209.86L68.40 208.82L68.90 207.79L69.40 206.78L69.90 205.79L70.40 204.83L70.90 203.90L71.40 203.00L71.90 202.12L72.40 201.27L72.90 200.43L73.40 199.60L73.90 198.78L74.40 197.96L74.90 197.16L75.40 196.36L75.90 195.58L76.40 194.80L76.90 194.04L77.40 193.28L77.90 192.53L78.40 191.78L78.90 191.04L79.40 190.30L79.90 189.56L80.40 188.83L80.90 188.10L81.40 187.38L81.90 186.67L82.40 185.97L82.90 185.27L83.40 184.58L83.90 183.90L84.40 183.22L84.90 182.55L85.40 181.88L85.90 181.22L86.40 180.56L86.90 179.91L87.40 179.27L87.90 178.63L88.40 177.99L88.90 177.36L89.40 176.73L89.90 176.11L90.40 175.49L90.90 174.88L91.40 174.27L91.90 173.66L92.40 173.06L92.90 172.46L93.40 171.87L93.90 171.28L94.40 170.69L94.90 170.10L95.40 169.52L95.90 168.95L96.40 168.37L96.90 167.80L97.40 167.23L97.90 166.66L98.40 166.10L98.90 165.54L99.40 164.98L99.90 164.43L100.40 163.87L100.90 163.32L101.40 162.78L101.90 162.23L102.40 161.69L102.90 161.15L103.40 160.61L103.90 160.07L104.40 159.53L104.90 159.00L105.40 158.47L105.90 157.94L106.40 157.41L106.90 156.89L107.40 156.36L107.90 155.84L108.40 155.32L108.90 154.80L109.40 154.29L109.90 153.77L110.40 153.26L110.90 152.75L111.40 152.24L111.90 151.73L112.40 151.23L112.90 150.73L113.40 150.23L113.90 149.73L114.40 149.24L114.90 148.74L115.40 148.25L115.90 147.77L116.40 147.28L116.90 146.80L117.40 146.32L117.90 145.84L118.40 145.36L118.90 144.89L119.40 144.42L119.90 143.95L120.00 143.86L121.00 142.93L122.00 142.01L123.00 141.10L124.00 140.20L125.00 139.31L126.00 138.43L127.00 137.56L128.00 136.70L129.00 135.85L130.00 135.01L131.00 134.17L132.00 133.35L133.00 132.54L134.00 131.74L135.00 130.95L136.00 130.17L137.00 129.40L138.00 128.63L139.00 127.88L140.00 127.14L141.00 126.40L142.00 125.68L143.00 124.96L144.00 124.25L145.00 123.54L146.00 122.85L147.00 122.16L148.00 121.48L149.00 120.80L150.00 120.13L151.00 119.47L152.00 118.82L153.00 118.17L154.00 117.53L155.00 116.89L156.00 116.26L157.00 115.64L158.00 115.02L159.00 114.41L160.00 113.80L161.00 113.20L162.00 112.60L163.00 112.01L164.00 111.42L165.00 110.84L166.00 110.26L167.00 109.69L168.00 109.12L169.00 108.56L170.00 108.00L171.00 107.45L172.00 106.90L173.00 106.36L174.00 105.82L175.00 105.29L176.00 104.76L177.00 104.23L178.00 103.71L179.00 103.20L180.00 102.68L181.00 102.18L182.00 101.67L183.00 101.17L184.00 100.68L185.00 100.19L186.00 99.70L187.00 99.22L188.00 98.74L189.00 98.26L190.00 97.79L191.00 97.32L192.00 96.85L193.00 96.39L194.00 95.94L195.00 95.48L196.00 95.03L197.00 94.58L198.00 94.14L199.00 93.70L200.00 93.26L201.00 92.83L202.00 92.39L203.00 91.97L204.00 91.54L205.00 91.12L206.00 90.70L207.00 90.28L208.00 89.87L209.00 89.46L210.00 89.05L211.00 88.65L212.00 88.25L213.00 87.85L214.00 87.46L215.00 87.07L216.00 86.68L217.00 86.30L218.00 85.91L219.00 85.54L220.00 85.16L221.00 84.79L222.00 84.42L223.00 84.05L224.00 83.69L225.00 83.33L226.00 82.97L227.00 82.62L228.00 82.27L229.00 81.92L230.00 81.58L231.00 81.24L232.00 80.90L233.00 80.57L234.00 80.23L235.00 79.90L236.00 79.58L237.00 79.25L238.00 78.93L239.00 78.61L240.00 78.30L241.00 77.98L242.00 77.67L243.00 77.36L244.00 77.05L245.00 76.74L246.00 76.44L247.00 76.14L248.00 75.84L249.00 75.54L250.00 75.24L251.00 74.95L252.00 74.65L253.00 74.36L254.00 74.07L255.00 73.78L256.00 73.49L257.00 73.21L258.00 72.93L259.00 72.65L260.00 72.37L261.00 72.09L262.00 71.82L263.00 71.54L264.00 71.27L265.00 71.00L266.00 70.74L267.00 70.47L268.00 70.21L269.00 69.95L270.00 69.68L271.00 69.42L272.00 69.17L273.00 68.91L274.00 68.65L275.00 68.40L276.00 68.14L277.00 67.89L278.00 67.64L279.00 67.38L280.00 67.13L281.00 66.88L282.00 66.63L283.00 66.39L284.00 66.14L285.00 65.89L286.00 65.64L287.00 65.40L288.00 65.15L289.00 64.91L290.00 64.67L291.00 64.43L292.00 64.19L293.00 63.95L294.00 63.71L295.00 63.48L296.00 63.25L297.00 63.01L298.00 62.78L299.00 62.55L300.00 62.32L301.00 62.09L302.00 61.87L303.00 61.64L304.00 61.42L305.00 61.20L306.00 60.98L307.00 60.75L308.00 60.54L309.00 60.32L310.00 60.10L311.00 59.89L312.00 59.67L313.00 59.46L314.00 59.25L315.00 59.03L316.00 58.82L317.00 58.62L318.00 58.41L319.00 58.20L320.00 58.00L321.00 57.80L322.00 57.59L323.00 57.39L324.00 57.19L325.00 56.99L326.00 56.80L327.00 56.60L328.00 56.40L329.00 56.21L330.00 56.02L331.00 55.82L332.00 55.63L333.00 55.44L334.00 55.25L335.00 55.06L336.00 54.88L337.00 54.69L338.00 54.51" stroke="#00b400" stroke-width="1.39"/>
<path d="M49.90 124.14L50.40 123.25L50.90 122.38L51.40 121.52L51.90 120.68L52.40 119.85L52.90 119.03L53.40 118.23L53.90 117.44L54.40 116.66L54.90 115.89L55.40 115.14L55.90 114.39L56.40 113.66L56.90 112.94L57.40 112.23L57.90 111.52L58.40 110.83L58.90 110.15L59.40 109.48L59.90 108.81L60.40 108.16L60.90 107.51L61.40 106.88L61.90 106.25L62.40 105.63L62.90 105.01L63.40 104.41L63.90 103.81L64.40 103.22L64.90 102.64L65.40 102.06L65.90 101.50L66.40 100.93L66.90 100.38L67.40 99.83L67.90 99.29L68.40 98.76L68.90 98.23L69.40 97.70L69.90 97.19L70.40 96.68L70.90 96.17L71.40 95.67L71.90 95.18L72.40 94.69L72.90 94.20L73.40 93.73L73.90 93.25L74.40 92.79L74.90 92.32L75.40 91.86L75.90 91.41L76.40 90.96L76.90 90.52L77.40 90.08L77.90 89.64L78.40 89.21L78.90 88.79L79.40 88.37L79.90 87.95L80.40 87.53L80.90 87.12L81.40 86.72L81.90 86.32L82.40 85.92L82.90 85.53L83.40 85.13L83.90 84.75L84.40 84.37L84.90 83.99L85.40 83.61L85.90 83.24L86.40 82.87L86.90 82.50L87.40 82.14L87.90 81.78L88.40 81.43L88.90 81.07L89.40 80.72L89.90 80.38L90.40 80.03L90.90 79.69L91.40 79.36L91.90 79.02L92.40 78.69L92.90 78.36L93.40 78.04L93.90 77.71L94.40 77.39L94.90 77.08L95.40 76.76L95.90 76.45L96.40 76.14L96.90 75.83L97.40 75.53L97.90 75.22L98.40 74.92L98.90 74.63L99.40 74.33L99.90 74.04L100.40 73.75L100.90 73.46L101.40 73.18L101.90 72.89L102.40 72.61L102.90 72.33L103.40 72.06L103.90 71.78L104.40 71.51L104.90 71.24L105.40 70.97L105.90 70.71L106.40 70.44L106.90 70.18L107.40 69.92L107.90 69.66L108.40 69.41L108.90 69.15L109.40 68.90L109.90 68.65L110.40 68.40L110.90 68.16L111.40 67.91L111.90 67.67L112.40 67.43L112.90 67.19L113.40 66.95L113.90 66.71L114.40 66.48L114.90 66.25L115.40 66.02L115.90 65.79L116.40 65.56L116.90 65.33L117.40 65.11L117.90 64.89L118.40 64.66L118.90 64.44L119.40 64.23L119.90 64.01L120.00 63.97L121.00 63.54L122.00 63.12L123.00 62.70L124.00 62.29L125.00 61.89L126.00 61.49L127.00 61.09L128.00 60.70L129.00 60.32L130.00 59.94L131.00 59.57L132.00 59.20L133.00 58.84L134.00 58.48L135.00 58.12L136.00 57.77L137.00 57.43L138.00 57.09L139.00 56.75L140.00 56.42L141.00 56.09L142.00 55.77L143.00 55.45L144.00 55.13L145.00 54.82L146.00 54.51L147.00 54.21L148.00 53.91L149.00 53.61L150.00 53.32L151.00 53.03L152.00 52.74L153.00 52.46L154.00 52.18L155.00 51.91L156.00 51.64L157.00 51.37L158.00 51.10L159.00 50.84L160.00 50.58L161.00 50.32L162.00 50.07L163.00 49.82L164.00 49.57L165.00 49.33L166.00 49.09L167.00 48.85L168.00 48.61L169.00 48.38L170.00 48.15L171.00 47.92L172.00 47.70L173.00 47.47L174.00 47.25L175.00 47.04L176.00 46.82L177.00 46.61L178.00 46.40L179.00 46.19L180.00 45.99L181.00 45.79L182.00 45.58L183.00 45.39L184.00 45.19L185.00 45.00L186.00 44.81L187.00 44.62L188.00 44.43L189.00 44.24L190.00 44.06L191.00 43.88L192.00 43.70L193.00 43.53L194.00 43.35L195.00 43.18L196.00 43.01L197.00 42.84L198.00 42.67L199.00 42.51L200.00 42.34L201.00 42.18L202.00 42.02L203.00 41.87L204.00 41.71L205.00 41.56L206.00 41.40L207.00 41.25L208.00 41.10L209.00 40.96L210.00 40.81L211.00 40.67L212.00 40.52L213.00 40.38L214.00 40.24L215.00 40.11L216.00 39.97L217.00 39.83L218.00 39.70L219.00 39.57L220.00 39.44L221.00 39.31L222.00 39.18L223.00 39.06L224.00 38.93L225.00 38.81L226.00 38.69L227.00 38.57L228.00 38.45L229.00 38.33L230.00 38.22L231.00 38.10L232.00 37.99L233.00 37.87L234.00 37.76L235.00 37.65L236.00 37.55L237.00 37.44L238.00 37.33L239.00 37.23L240.00 37.12L241.00 37.02L242.00 36.92L243.00 36.82L244.00 36.72L245.00 36.62L246.00 36.53L247.00 36.43L248.00 36.34L249.00 36.24L250.00 36.15L251.00 36.06L252.00 35.97L253.00 35.88L254.00 35.79L255.00 35.70L256.00 35.62L257.00 35.53L258.00 35.45L259.00 35.36L260.00 35.28L261.00 35.20L262.00 35.12L263.00 35.04L264.00 34.96L265.00 34.88L266.00 34.81L267.00 34.73L268.00 34.66L269.00 34.58L270.00 34.51L271.00 34.44L272.00 34.37L273.00 34.29L274.00 34.22L275.00 34.16L276.00 34.09L277.00 34.02L278.00 33.95L279.00 33.89L280.00 33.82L281.00 33.76L282.00 33.70L283.00 33.63L284.00 33.57L285.00 33.51L286.00 33.45L287.00 33.39L288.00 33.33L289.00 33.27L290.00 33.22L291.00 33.16L292.00 33.10L293.00 33.05L294.00 32.99L295.00 32.94L296.00 32.89L297.00 32.83L298.00 32.78L299.00 32.73L300.00 32.68L301.00 32.63L302.00 32.58L303.00 32.53L304.00 32.48L305.00 32.44L306.00 32.39L307.00 32.34L308.00 32.30L309.00 32.25L310.00 32.21L311.00 32.16L312.00 32.12L313.00 32.08L314.00 32.03L315.00 31.99L316.00 31.95L317.00 31.91L318.00 31.87L319.00 31.83L320.00 31.79L321.00 31.75L322.00 31.71L323.00 31.68L324.00 31.64L325.00 31.60L326.00 31.57L327.00 31.53L328.00 31.50L329.00 31.46L330.00 31.43L331.00 31.39L332.00 31.36L333.00 31.33L334.00 31.29L335.00 31.26L336.00 31.23L337.00 31.20L338.00 31.17" stroke="#000000" stroke-width="1.39"/>
<path d="M49.90 196.31L50.40 194.98L50.90 193.66L51.40 192.37L51.90 191.10L52.40 189.85L52.90 188.62L53.40 187.40L53.90 186.21L54.40 185.03L54.90 183.87L55.40 182.73L55.90 181.60L56.40 180.49L56.90 179.40L57.40 178.32L57.90 177.25L58.40 176.20L58.90 175.17L59.40 174.14L59.90 173.13L60.40 172.14L60.90 171.15L61.40 170.18L61.90 169.22L62.40 168.28L62.90 167.34L63.40 166.42L63.90 165.51L64.40 164.60L64.90 163.71L65.40 162.83L65.90 161.96L66.40 161.10L66.90 160.25L67.40 159.41L67.90 158.58L68.40 157.76L68.90 156.94L69.40 156.14L69.90 155.34L70.40 154.55L70.90 153.78L71.40 153.00L71.90 152.24L72.40 151.49L72.90 150.74L73.40 150.00L73.90 149.27L74.40 148.54L74.90 147.83L75.40 147.12L75.90 146.41L76.40 145.72L76.90 145.03L77.40 144.35L77.90 143.67L78.40 143.00L78.90 142.34L79.40 141.68L79.90 141.03L80.40 140.38L80.90 139.74L81.40 139.11L81.90 138.48L82.40 137.86L82.90 137.24L83.40 136.63L83.90 136.02L84.40 135.42L84.90 134.83L85.40 134.24L85.90 133.65L86.40 133.07L86.90 132.50L87.40 131.92L87.90 131.36L88.40 130.80L88.90 130.24L89.40 129.69L89.90 129.14L90.40 128.60L90.90 128.06L91.40 127.53L91.90 127.00L92.40 126.47L92.90 125.95L93.40 125.43L93.90 124.92L94.40 124.41L94.90 123.90L95.40 123.40L95.90 122.90L96.40 122.41L96.90 121.92L97.40 121.43L97.90 120.95L98.40 120.47L98.90 120.00L99.40 119.52L99.90 119.06L100.40 118.59L100.90 118.13L101.40 117.67L101.90 117.21L102.40 116.76L102.90 116.31L103.40 115.87L103.90 115.43L104.40 114.99L104.90 114.55L105.40 114.12L105.90 113.69L106.40 113.26L106.90 112.84L107.40 112.41L107.90 112.00L108.40 111.58L108.90 111.17L109.40 110.76L109.90 110.35L110.40 109.95L110.90 109.54L111.40 109.15L111.90 108.75L112.40 108.35L112.90 107.96L113.40 107.57L113.90 107.19L114.40 106.80L114.90 106.42L115.40 106.05L115.90 105.67L116.40 105.29L116.90 104.92L117.40 104.55L117.90 104.19L118.40 103.82L118.90 103.46L119.40 103.10L119.90 102.74L120.00 102.67L121.00 101.96L122.00 101.26L123.00 100.57L124.00 99.89L125.00 99.22L126.00 98.55L127.00 97.89L128.00 97.24L129.00 96.60L130.00 95.96L131.00 95.33L132.00 94.71L133.00 94.10L134.00 93.49L135.00 92.89L136.00 92.30L137.00 91.71L138.00 91.13L139.00 90.56L140.00 89.99L141.00 89.43L142.00 88.88L143.00 88.33L144.00 87.78L145.00 87.25L146.00 86.71L147.00 86.19L148.00 85.67L149.00 85.15L150.00 84.64L151.00 84.14L152.00 83.64L153.00 83.14L154.00 82.66L155.00 82.17L156.00 81.69L157.00 81.22L158.00 80.75L159.00 80.28L160.00 79.82L161.00 79.37L162.00 78.92L163.00 78.47L164.00 78.03L165.00 77.59L166.00 77.16L167.00 76.73L168.00 76.30L169.00 75.88L170.00 75.46L171.00 75.05L172.00 74.64L173.00 74.24L174.00 73.83L175.00 73.44L176.00 73.04L177.00 72.65L178.00 72.27L179.00 71.88L180.00 71.50L181.00 71.13L182.00 70.76L183.00 70.39L184.00 70.02L185.00 69.66L186.00 69.30L187.00 68.94L188.00 68.59L189.00 68.24L190.00 67.90L191.00 67.55L192.00 67.21L193.00 66.88L194.00 66.54L195.00 66.21L196.00 65.88L197.00 65.56L198.00 65.24L199.00 64.92L200.00 64.60L201.00 64.29L202.00 63.97L203.00 63.67L204.00 63.36L205.00 63.06L206.00 62.76L207.00 62.46L208.00 62.16L209.00 61.87L210.00 61.58L211.00 61.29L212.00 61.01L213.00 60.73L214.00 60.45L215.00 60.17L216.00 59.89L217.00 59.62L218.00 59.35L219.00 59.08L220.00 58.81L221.00 58.55L222.00 58.29L223.00 58.03L224.00 57.77L225.00 57.52L226.00 57.26L227.00 57.01L228.00 56.76L229.00 56.52L230.00 56.27L231.00 56.03L232.00 55.79L233.00 55.55L234.00 55.32L235.00 55.08L236.00 54.85L237.00 54.62L238.00 54.39L239.00 54.16L240.00 53.94L241.00 53.71L242.00 53.49L243.00 53.27L244.00 53.06L245.00 52.84L246.00 52.63L247.00 52.41L248.00 52.20L249.00 51.99L250.00 51.79L251.00 51.58L252.00 51.38L253.00 51.17L254.00 50.97L255.00 50.78L256.00 50.58L257.00 50.38L258.00 50.19L259.00 50.00L260.00 49.81L261.00 49.62L262.00 49.43L263.00 49.24L264.00 49.06L265.00 48.88L266.00 48.69L267.00 48.51L268.00 48.33L269.00 48.16L270.00 47.98L271.00 47.81L272.00 47.63L273.00 47.46L274.00 47.29L275.00 47.12L276.00 46.96L277.00 46.79L278.00 46.63L279.00 46.46L280.00 46.30L281.00 46.14L282.00 45.98L283.00 45.82L284.00 45.67L285.00 45.51L286.00 45.36L287.00 45.20L288.00 45.05L289.00 44.90L290.00 44.75L291.00 44.60L292.00 44.46L293.00 44.31L294.00 44.17L295.00 44.02L296.00 43.88L297.00 43.74L298.00 43.60L299.00 43.46L300.00 43.33L301.00 43.19L302.00 43.05L303.00 42.92L304.00 42.79L305.00 42.66L306.00 42.52L307.00 42.39L308.00 42.27L309.00 42.14L310.00 42.01L311.00 41.89L312.00 41.76L313.00 41.64L314.00 41.52L315.00 41.39L316.00 41.27L317.00 41.16L318.00 41.04L319.00 40.92L320.00 40.80L321.00 40.69L322.00 40.57L323.00 40.46L324.00 40.35L325.00 40.24L326.00 40.12L327.00 40.02L328.00 39.91L329.00 39.80L330.00 39.69L331.00 39.59L332.00 39.48L333.00 39.38L334.00 39.27L335.00 39.17L336.00 39.07L337.00 38.97L338.00 38.87" stroke="#000000" stroke-width="1.39" stroke-dasharray="4.16 4.16"/>
<path d="M49.90 266.17L50.40 264.80L50.90 263.45L51.40 262.12L51.90 260.82L52.40 259.53L52.90 258.26L53.40 257.01L53.90 255.77L54.40 254.55L54.90 253.35L55.40 252.17L55.90 251.00L56.40 249.85L56.90 248.71L57.40 247.59L57.90 246.48L58.40 245.38L58.90 244.30L59.40 243.23L59.90 242.18L60.40 241.14L60.90 240.11L61.40 239.09L61.90 238.08L62.40 237.09L62.90 236.11L63.40 235.13L63.90 234.17L64.40 233.22L64.90 232.28L65.40 231.35L65.90 230.43L66.40 229.52L66.90 228.62L67.40 227.73L67.90 226.85L68.40 225.98L68.90 225.11L69.40 224.26L69.90 223.41L70.40 222.57L70.90 221.74L71.40 220.92L71.90 220.10L72.40 219.30L72.90 218.50L73.40 217.71L73.90 216.92L74.40 216.14L74.90 215.37L75.40 214.61L75.90 213.85L76.40 213.10L76.90 212.36L77.40 211.62L77.90 210.89L78.40 210.17L78.90 209.45L79.40 208.74L79.90 208.04L80.40 207.34L80.90 206.64L81.40 205.95L81.90 205.27L82.40 204.59L82.90 203.92L83.40 203.26L83.90 202.59L84.40 201.94L84.90 201.29L85.40 200.64L85.90 200.00L86.40 199.36L86.90 198.73L87.40 198.10L87.90 197.48L88.40 196.86L88.90 196.25L89.40 195.64L89.90 195.03L90.40 194.43L90.90 193.83L91.40 193.24L91.90 192.65L92.40 192.06L92.90 191.48L93.40 190.91L93.90 190.33L94.40 189.76L94.90 189.19L95.40 188.63L95.90 188.07L96.40 187.52L96.90 186.96L97.40 186.41L97.90 185.87L98.40 185.33L98.90 184.79L99.40 184.25L99.90 183.72L100.40 183.19L100.90 182.66L101.40 182.14L101.90 181.62L102.40 181.10L102.90 180.58L103.40 180.07L103.90 179.56L104.40 179.06L104.90 178.55L105.40 178.05L105.90 177.55L106.40 177.06L106.90 176.57L107.40 176.08L107.90 175.59L108.40 175.10L108.90 174.62L109.40 174.14L109.90 173.66L110.40 173.19L110.90 172.71L111.40 172.24L111.90 171.78L112.40 171.31L112.90 170.85L113.40 170.38L113.90 169.92L114.40 169.47L114.90 169.01L115.40 168.56L115.90 168.11L116.40 167.66L116.90 167.21L117.40 166.77L117.90 166.33L118.40 165.88L118.90 165.45L119.40 165.01L119.90 164.57L120.00 164.49L121.00 163.62L122.00 162.77L123.00 161.92L124.00 161.08L125.00 160.24L126.00 159.41L127.00 158.59L128.00 157.78L129.00 156.97L130.00 156.16L131.00 155.37L132.00 154.57L133.00 153.79L134.00 153.01L135.00 152.24L136.00 151.47L137.00 150.70L138.00 149.95L139.00 149.19L140.00 148.45L141.00 147.70L142.00 146.97L143.00 146.23L144.00 145.51L145.00 144.79L146.00 144.07L147.00 143.36L148.00 142.65L149.00 141.95L150.00 141.25L151.00 140.56L152.00 139.88L153.00 139.20L154.00 138.52L155.00 137.85L156.00 137.19L157.00 136.53L158.00 135.87L159.00 135.22L160.00 134.58L161.00 133.94L162.00 133.30L163.00 132.67L164.00 132.04L165.00 131.42L166.00 130.81L167.00 130.19L168.00 129.59L169.00 128.99L170.00 128.39L171.00 127.80L172.00 127.21L173.00 126.62L174.00 126.04L175.00 125.47L176.00 124.90L177.00 124.33L178.00 123.77L179.00 123.21L180.00 122.66L181.00 122.11L182.00 121.56L183.00 121.02L184.00 120.48L185.00 119.95L186.00 119.41L187.00 118.89L188.00 118.36L189.00 117.84L190.00 117.33L191.00 116.81L192.00 116.30L193.00 115.80L194.00 115.30L195.00 114.80L196.00 114.30L197.00 113.81L198.00 113.32L199.00 112.83L200.00 112.35L201.00 111.87L202.00 111.40L203.00 110.92L204.00 110.45L205.00 109.99L206.00 109.52L207.00 109.06L208.00 108.60L209.00 108.15L210.00 107.70L211.00 107.25L212.00 106.80L213.00 106.35L214.00 105.91L215.00 105.48L216.00 105.04L217.00 104.61L218.00 104.18L219.00 103.75L220.00 103.32L221.00 102.90L222.00 102.48L223.00 102.06L224.00 101.65L225.00 101.24L226.00 100.83L227.00 100.42L228.00 100.01L229.00 99.61L230.00 99.21L231.00 98.81L232.00 98.41L233.00 98.02L234.00 97.63L235.00 97.24L236.00 96.85L237.00 96.47L238.00 96.08L239.00 95.70L240.00 95.32L241.00 94.95L242.00 94.57L243.00 94.20L244.00 93.83L245.00 93.46L246.00 93.09L247.00 92.73L248.00 92.37L249.00 92.00L250.00 91.64L251.00 91.29L252.00 90.93L253.00 90.58L254.00 90.22L255.00 89.87L256.00 89.52L257.00 89.18L258.00 88.83L259.00 88.49L260.00 88.15L261.00 87.81L262.00 87.47L263.00 87.13L264.00 86.79L265.00 86.46L266.00 86.13L267.00 85.80L268.00 85.47L269.00 85.14L270.00 84.81L271.00 84.49L272.00 84.17L273.00 83.84L274.00 83.52L275.00 83.20L276.00 82.89L277.00 82.57L278.00 82.26L279.00 81.94L280.00 81.63L281.00 81.32L282.00 81.02L283.00 80.71L284.00 80.40L285.00 80.10L286.00 79.80L287.00 79.49L288.00 79.19L289.00 78.89L290.00 78.60L291.00 78.30L292.00 78.01L293.00 77.71L294.00 77.42L295.00 77.13L296.00 76.84L297.00 76.55L298.00 76.27L299.00 75.98L300.00 75.70L301.00 75.41L302.00 75.13L303.00 74.85L304.00 74.57L305.00 74.29L306.00 74.02L307.00 73.74L308.00 73.47L309.00 73.20L310.00 72.92L311.00 72.65L312.00 72.38L313.00 72.12L314.00 71.85L315.00 71.59L316.00 71.32L317.00 71.06L318.00 70.80L319.00 70.53L320.00 70.27L321.00 70.02L322.00 69.76L323.00 69.50L324.00 69.25L325.00 68.99L326.00 68.74L327.00 68.48L328.00 68.23L329.00 67.98L330.00 67.73L331.00 67.48L332.00 67.23L333.00 66.98L334.00 66.74L335.00 66.49L336.00 66.25L337.00 66.00L338.00 65.76" stroke="#0000ff" stroke-width="1.39"/>
</g>
<path d="M47.63 185.45H53.57M50.60 182.48V188.43" stroke="#ff0000" stroke-width="1.39" fill="none"/>
<path d="M76.91 138.49H82.85M79.88 135.52V141.46" stroke="#ff0000" stroke-width="1.39" fill="none"/>
<path d="M106.19 110.76H112.13M109.16 107.79V113.73" stroke="#ff0000" stroke-width="1.39" fill="none"/>
<path d="M135.47 91.38H141.41M138.44 88.41V94.35" stroke="#ff0000" stroke-width="1.39" fill="none"/>
<path d="M164.75 77.32H170.69M167.72 74.35V80.30" stroke="#ff0000" stroke-width="1.39" fill="none"/>
<path d="M194.03 66.96H199.97M197.00 63.99V69.93" stroke="#ff0000" stroke-width="1.39" fill="none"/>
<path d="M223.31 58.99H229.25M226.28 56.02V61.96" stroke="#ff0000" stroke-width="1.39" fill="none"/>
<path d="M252.59 52.67H258.53M255.56 49.69V55.64" stroke="#ff0000" stroke-width="1.39" fill="none"/>
<path d="M281.87 47.54H287.81M284.84 44.56V50.51" stroke="#ff0000" stroke-width="1.39" fill="none"/>
<path d="M311.15 43.40H317.09M314.12 40.43V46.37" stroke="#ff0000" stroke-width="1.39" fill="none"/>
<path d="M47.63 195.64H53.57M50.60 192.66V198.61" stroke="#ff0000" stroke-width="1.39" fill="none"/>
<path d="M76.91 144.29H82.85M79.88 141.32V147.26" stroke="#ff0000" stroke-width="1.39" fill="none"/>
<path d="M106.19 116.71H112.13M109.16 113.74V119.68" stroke="#ff0000" stroke-width="1.39" fill="none"/>
<path d="M135.47 96.90H141.41M138.44 93.93V99.87" stroke="#ff0000" stroke-width="1.39" fill="none"/>
<path d="M164.75 82.88H170.69M167.72 79.91V85.85" stroke="#ff0000" stroke-width="1.39" fill="none"/>
<path d="M194.03 71.58H199.97M197.00 68.61V74.55" stroke="#ff0000" stroke-width="1.39" fill="none"/>
<path d="M223.31 62.93H229.25M226.28 59.96V65.91" stroke="#ff0000" stroke-width="1.39" fill="none"/>
<path d="M252.59 55.96H258.53M255.56 52.98V58.93" stroke="#ff0000" stroke-width="1.39" fill="none"/>
<path d="M281.87 50.27H287.81M284.84 47.30V53.24" stroke="#ff0000" stroke-width="1.39" fill="none"/>
<path d="M311.15 45.56H317.09M314.12 42.59V48.53" stroke="#ff0000" stroke-width="1.39" fill="none"/>
<path d="M50.60 120.66L52.68 123.43L50.60 126.20L48.52 123.43Z" stroke="#000000" stroke-width="1.39" fill="#000000" fill-opacity="0.6" stroke-linejoin="miter"/>
<path d="M79.88 85.19L81.96 87.96L79.88 90.74L77.80 87.96Z" stroke="#000000" stroke-width="1.39" fill="#000000" fill-opacity="0.6" stroke-linejoin="miter"/>
<path d="M109.16 66.25L111.24 69.02L109.16 71.79L107.08 69.02Z" stroke="#000000" stroke-width="1.39" fill="#000000" fill-opacity="0.6" stroke-linejoin="miter"/>
<path d="M138.44 54.17L140.52 56.94L138.44 59.71L136.36 56.94Z" stroke="#000000" stroke-width="1.39" fill="#000000" fill-opacity="0.6" stroke-linejoin="miter"/>
<path d="M167.72 45.91L169.80 48.68L167.72 51.45L165.64 48.68Z" stroke="#000000" stroke-width="1.39" fill="#000000" fill-opacity="0.6" stroke-linejoin="miter"/>
<path d="M197.00 40.07L199.08 42.84L197.00 45.61L194.92 42.84Z" stroke="#000000" stroke-width="1.39" fill="#000000" fill-opacity="0.6" stroke-linejoin="miter"/>
<path d="M226.28 35.88L228.36 38.65L226.28 41.43L224.20 38.65Z" stroke="#000000" stroke-width="1.39" fill="#000000" fill-opacity="0.6" stroke-linejoin="miter"/>
<path d="M255.56 32.88L257.64 35.65L255.56 38.43L253.48 35.65Z" stroke="#000000" stroke-width="1.39" fill="#000000" fill-opacity="0.6" stroke-linejoin="miter"/>
<path d="M284.84 30.75L286.92 33.52L284.84 36.29L282.76 33.52Z" stroke="#000000" stroke-width="1.39" fill="#000000" fill-opacity="0.6" stroke-linejoin="miter"/>
<path d="M314.12 29.26L316.20 32.03L314.12 34.80L312.04 32.03Z" stroke="#000000" stroke-width="1.39" fill="#000000" fill-opacity="0.6" stroke-linejoin="miter"/>
<path d="M50.60 192.47L52.68 195.24L50.60 198.01L48.52 195.24Z" stroke="#000000" stroke-width="1.39" fill="#000000" fill-opacity="0.6" stroke-linejoin="miter"/>
<path d="M79.88 138.28L81.96 141.05L79.88 143.82L77.80 141.05Z" stroke="#000000" stroke-width="1.39" fill="#000000" fill-opacity="0.6" stroke-linejoin="miter"/>
<path d="M109.16 108.18L111.24 110.95L109.16 113.73L107.08 110.95Z" stroke="#000000" stroke-width="1.39" fill="#000000" fill-opacity="0.6" stroke-linejoin="miter"/>
<path d="M138.44 88.11L140.52 90.88L138.44 93.65L136.36 90.88Z" stroke="#000000" stroke-width="1.39" fill="#000000" fill-opacity="0.6" stroke-linejoin="miter"/>
<path d="M167.72 73.65L169.80 76.42L167.72 79.19L165.64 76.42Z" stroke="#000000" stroke-width="1.39" fill="#000000" fill-opacity="0.6" stroke-linejoin="miter"/>
<path d="M197.00 62.79L199.08 65.56L197.00 68.33L194.92 65.56Z" stroke="#000000" stroke-width="1.39" fill="#000000" fill-opacity="0.6" stroke-linejoin="miter"/>
<path d="M226.28 54.42L228.36 57.19L226.28 59.97L224.20 57.19Z" stroke="#000000" stroke-width="1.39" fill="#000000" fill-opacity="0.6" stroke-linejoin="miter"/>
<path d="M255.56 47.89L257.64 50.67L255.56 53.44L253.48 50.67Z" stroke="#000000" stroke-width="1.39" fill="#000000" fill-opacity="0.6" stroke-linejoin="miter"/>
<path d="M284.84 42.76L286.92 45.54L284.84 48.31L282.76 45.54Z" stroke="#000000" stroke-width="1.39" fill="#000000" fill-opacity="0.6" stroke-linejoin="miter"/>
<path d="M314.12 38.73L316.20 41.50L314.12 44.27L312.04 41.50Z" stroke="#000000" stroke-width="1.39" fill="#000000" fill-opacity="0.6" stroke-linejoin="miter"/>
<path d="M48.44 262.84L52.36 266.76M48.44 266.76L52.36 262.84" stroke="#0000ff" stroke-width="1.39" fill="none"/>
<path d="M77.54 206.64L81.46 210.56M77.54 210.56L81.46 206.64" stroke="#0000ff" stroke-width="1.39" fill="none"/>
<path d="M106.34 173.24L110.26 177.16M106.34 177.16L110.26 173.24" stroke="#0000ff" stroke-width="1.39" fill="none"/>
<path d="M135.44 148.44L139.36 152.36M135.44 152.36L139.36 148.44" stroke="#0000ff" stroke-width="1.39" fill="none"/>
<path d="M164.54 128.54L168.46 132.46M164.54 132.46L168.46 128.54" stroke="#0000ff" stroke-width="1.39" fill="none"/>
<path d="M193.64 112.54L197.56 116.46M193.64 116.46L197.56 112.54" stroke="#0000ff" stroke-width="1.39" fill="none"/>
<path d="M222.64 99.44L226.56 103.36M222.64 103.36L226.56 99.44" stroke="#0000ff" stroke-width="1.39" fill="none"/>
<path d="M251.54 88.44L255.46 92.36M251.54 92.36L255.46 88.44" stroke="#0000ff" stroke-width="1.39" fill="none"/>
<path d="M280.74 78.84L284.66 82.76M280.74 82.76L284.66 78.84" stroke="#0000ff" stroke-width="1.39" fill="none"/>
<path d="M309.24 70.64L313.16 74.56M309.24 74.56L313.16 70.64" stroke="#0000ff" stroke-width="1.39" fill="none"/>
<rect x="146.5" y="158.3" width="181.10000000000002" height="101.89999999999998" fill="#fff" stroke="#000" stroke-width="1.1"/>
<path d="M150.8 168.8H174.4" stroke="#ff0000" stroke-width="1.39" fill="none"/>
<path d="M159.63 168.80H165.57M162.60 165.83V171.77" stroke="#ff0000" stroke-width="1.39" fill="none"/>
<text x="178.8" y="172.0" font-family="Liberation Serif, serif" font-size="11.15">1 shift</text>
<path d="M237.8 168.8H261.6" stroke="#ff0000" stroke-width="1.39" fill="none" stroke-dasharray="1.39 2.77"/>
<path d="M246.73 168.80H252.67M249.70 165.83V171.77" stroke="#ff0000" stroke-width="1.39" fill="none"/>
<text x="264.4" y="172.0" font-family="Liberation Serif, serif" font-size="11.15">8 shifts</text>
<path d="M150.8 184.0H174.4" stroke="#00b400" stroke-width="1.39" fill="none" stroke-dasharray="1.39 2.77"/>
<text x="178.8" y="187.2" font-family="Liberation Serif, serif" font-size="11.15">ISD(0)</text>
<path d="M237.8 184.0H261.6" stroke="#00b400" stroke-width="1.39" fill="none" stroke-dasharray="4.16 4.16"/>
<text x="264.4" y="187.2" font-family="Liberation Serif, serif" font-size="11.15">ISD(1)</text>
<path d="M150.8 199.4H174.4" stroke="#00b400" stroke-width="1.39" fill="none" stroke-dasharray="4.16 2.77 1.39 2.77"/>
<text x="178.8" y="202.6" font-family="Liberation Serif, serif" font-size="11.15">ISD(2)</text>
<path d="M237.8 199.4H261.6" stroke="#00b400" stroke-width="1.39" fill="none" stroke-dasharray="4.16 2.77"/>
<text x="264.4" y="202.6" font-family="Liberation Serif, serif" font-size="11.15">ISD(3)</text>
<path d="M150.8 214.5H174.4" stroke="#00b400" stroke-width="1.39" fill="none" stroke-dasharray="4.16 1.39 1.39 1.39"/>
<text x="178.8" y="217.7" font-family="Liberation Serif, serif" font-size="11.15">ISD(4)</text>
<path d="M237.8 214.5H261.6" stroke="#00b400" stroke-width="1.39" fill="none"/>
<text x="264.4" y="217.7" font-family="Liberation Serif, serif" font-size="11.15">ISD(5)</text>
<path d="M150.8 232.2H174.4" stroke="#000000" stroke-width="1.39" fill="none"/>
<path d="M162.60 229.43L164.68 232.20L162.60 234.97L160.52 232.20Z" stroke="#000000" stroke-width="1.39" fill="#000000" fill-opacity="0.6" stroke-linejoin="miter"/>
<text x="178.6" y="238.1" font-family="Liberation Serif, serif" font-size="11.8" font-style="italic" textLength="4.7" lengthAdjust="spacingAndGlyphs">τ</text>
<path d="M195.00 232.2L188.40 234.9L195.00 237.6M188.40 239.3H195.00" stroke="#111" stroke-width="0.6" fill="none"/>
<path d="M203.00 224.6V243.5H205.60M231.90 224.6V243.5H229.30" stroke="#000" stroke-width="0.6" fill="none"/>
<path d="M208.00 235.3H226.60" stroke="#000" stroke-width="0.55" fill="none"/>
<text x="208.4" y="233.6" font-family="Liberation Serif, serif" font-size="8.0" textLength="17.6" lengthAdjust="spacingAndGlyphs"><tspan font-style="italic">d</tspan>−1</text>
<text x="215.0" y="242.1" font-family="Liberation Serif, serif" font-size="8.0" textLength="4.6" lengthAdjust="spacingAndGlyphs">2</text>
<path d="M237.8 232.2H261.6" stroke="#000000" stroke-width="1.39" fill="none" stroke-dasharray="4.16 4.16"/>
<path d="M249.70 229.43L251.78 232.20L249.70 234.97L247.62 232.20Z" stroke="#000000" stroke-width="1.39" fill="#000000" fill-opacity="0.6" stroke-linejoin="miter"/>
<text x="265.5" y="238.1" font-family="Liberation Serif, serif" font-size="11.8" font-style="italic" textLength="4.7" lengthAdjust="spacingAndGlyphs">τ</text>
<path d="M281.90 232.2L275.30 234.9L281.90 237.6M275.30 239.3H281.90" stroke="#111" stroke-width="0.6" fill="none"/>
<path d="M289.90 224.6V243.5H292.50M318.80 224.6V243.5H316.20" stroke="#000" stroke-width="0.6" fill="none"/>
<path d="M294.90 235.3H313.50" stroke="#000" stroke-width="0.55" fill="none"/>
<text x="295.3" y="233.6" font-family="Liberation Serif, serif" font-size="8.0" textLength="17.6" lengthAdjust="spacingAndGlyphs"><tspan font-style="italic">δ</tspan>−1</text>
<text x="301.9" y="242.1" font-family="Liberation Serif, serif" font-size="8.0" textLength="4.6" lengthAdjust="spacingAndGlyphs">2</text>
<path d="M150.8 249.9H174.4" stroke="#0000ff" stroke-width="1.39" fill="none"/>
<path d="M160.64 247.94L164.56 251.86M160.64 251.86L164.56 247.94" stroke="#0000ff" stroke-width="1.39" fill="none"/>
<text x="178.8" y="253.1" font-family="Liberation Serif, serif" font-size="11.15">ML-LB</text>
<text x="5.5" y="12.1" font-family="Liberation Serif, serif" font-size="12" textLength="27.3" lengthAdjust="spacingAndGlyphs">WER</text>
<text x="20.5" y="60.9" font-family="Liberation Serif, serif" font-size="11" textLength="11.0" lengthAdjust="spacingAndGlyphs">10</text>
<text x="33.1" y="56.8" font-family="Liberation Serif, serif" font-size="8.2" textLength="11.3" lengthAdjust="spacingAndGlyphs">−2</text>
<text x="20.5" y="114.1" font-family="Liberation Serif, serif" font-size="11" textLength="11.0" lengthAdjust="spacingAndGlyphs">10</text>
<text x="33.1" y="110.0" font-family="Liberation Serif, serif" font-size="8.2" textLength="11.3" lengthAdjust="spacingAndGlyphs">−6</text>
<text x="15.2" y="167.2" font-family="Liberation Serif, serif" font-size="11" textLength="11.0" lengthAdjust="spacingAndGlyphs">10</text>
<text x="27.8" y="163.1" font-family="Liberation Serif, serif" font-size="8.2" textLength="16.6" lengthAdjust="spacingAndGlyphs">−10</text>
<text x="15.2" y="220.5" font-family="Liberation Serif, serif" font-size="11" textLength="11.0" lengthAdjust="spacingAndGlyphs">10</text>
<text x="27.8" y="216.4" font-family="Liberation Serif, serif" font-size="8.2" textLength="16.6" lengthAdjust="spacingAndGlyphs">−14</text>
<text x="15.2" y="273.4" font-family="Liberation Serif, serif" font-size="11" textLength="11.0" lengthAdjust="spacingAndGlyphs">10</text>
<text x="27.8" y="269.3" font-family="Liberation Serif, serif" font-size="8.2" textLength="16.6" lengthAdjust="spacingAndGlyphs">−18</text>
<text x="82.6" y="280.6" font-family="Liberation Serif, serif" font-size="10.8" text-anchor="middle">2</text>
<text x="147.2" y="280.6" font-family="Liberation Serif, serif" font-size="10.8" text-anchor="middle">4</text>
<text x="211.9" y="280.6" font-family="Liberation Serif, serif" font-size="10.8" text-anchor="middle">6</text>
<text x="276.6" y="280.6" font-family="Liberation Serif, serif" font-size="10.8" text-anchor="middle">8</text>
<text x="171.3" y="297.5" font-family="Liberation Serif, serif" font-size="11" textLength="45.8" lengthAdjust="spacingAndGlyphs"><tspan font-style="italic">p</tspan> of BSC</text>
<text x="294.8" y="302.3" font-family="Liberation Serif, serif" font-size="11">·</text>
<text x="298.0" y="302.3" font-family="Liberation Serif, serif" font-size="11" textLength="11.6" lengthAdjust="spacingAndGlyphs">10</text>
<text x="310.6" y="298.5" font-family="Liberation Serif, serif" font-size="8.2" textLength="11.0" lengthAdjust="spacingAndGlyphs">−2</text>
</svg>
</body></html>
